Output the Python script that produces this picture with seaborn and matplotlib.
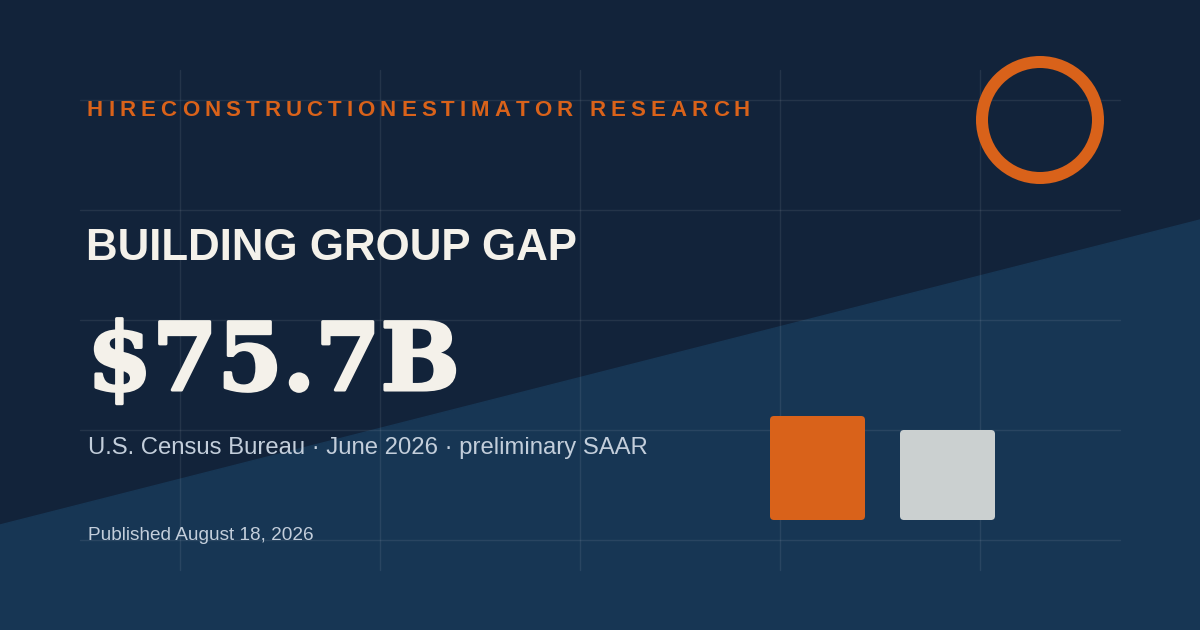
import matplotlib
matplotlib.use("Agg")
import matplotlib.pyplot as plt
import matplotlib.patheffects as pe
import seaborn as sns
import pandas as pd
from matplotlib import font_manager
from matplotlib.ft2font import FT2Font
from matplotlib.patches import Polygon, Circle, FancyBboxPatch

# --- content ---
brand = "HIRECONSTRUCTIONESTIMATOR RESEARCH"
title = "BUILDING GROUP GAP"
headline = "$75.7B"
subtitle = "U.S. Census Bureau \u00b7 June 2026 \u00b7 preliminary SAAR"
published = "Published August 18, 2026"

bar_groups = ["first", "second"]
bar_values = [104, 90]
bar_colors = ["#d9621a", "#cbd0d0"]

# --- colours ---
bg_dark = "#12233a"
bg_light = "#173654"
orange = "#d9621a"
cream = "#f4f1ea"
muted = "#c3cedb"

sns.set_theme(style="white")
plt.rcParams["font.family"] = ["Liberation Sans", "DejaVu Sans"]

W, H, DPI = 1200, 630, 100
fig = plt.figure(figsize=(W / DPI, H / DPI), dpi=DPI)
bg = fig.add_axes([0, 0, 1, 1])
bg.set_xlim(0, W)
bg.set_ylim(H, 0)
bg.axis("off")
bg.add_patch(Polygon([(0, 0), (W, 0), (W, H), (0, H)], closed=True, color=bg_dark, zorder=0))
bg.add_patch(Polygon([(0, 525), (W, 220), (W, H), (0, H)], closed=True, color=bg_light, zorder=1))

# faint grid
for gx in [180, 380, 580, 780, 980]:
    bg.plot([gx, gx], [70, 570], color="white", alpha=0.08, lw=1, zorder=2)
for gy in [100, 210, 320, 430, 540]:
    bg.plot([80, 1120], [gy, gy], color="white", alpha=0.08, lw=1, zorder=2)

# ring
bg.add_patch(Circle((1040, 120), 58, fill=False, ec=orange, lw=12 * 72 / DPI, zorder=3))


# letter-spaced brand line
def advances(text, family, weight, size_pt):
    path = font_manager.findfont(font_manager.FontProperties(family=family, weight=weight))
    ft = FT2Font(path)
    ft.set_size(size_pt, DPI)
    out = []
    for ch in text:
        g = ft.load_char(ord(ch))
        out.append(g.linearHoriAdvance / 65536)
    return out


brand_size = 16
adv = advances(brand, "Liberation Sans", "bold", brand_size)
span = 750 - 87
track = (span - sum(adv)) / (len(brand) - 1)
x = 87
for ch, a in zip(brand, adv):
    bg.text(x, 116, ch, color=orange, fontsize=brand_size, fontweight="bold",
            va="baseline", ha="left", zorder=4)
    x += a + track

bg.text(86, 260, title, color=cream, fontsize=31.6, fontweight="bold",
        va="baseline", ha="left", zorder=4)
bg.text(87, 390, headline, color=cream, fontsize=67.5, fontweight="bold",
        family="DejaVu Serif", va="baseline", ha="left", zorder=4,
        path_effects=[pe.withStroke(linewidth=2.2, foreground=cream)])
bg.text(88, 454, subtitle, color=muted, fontsize=17.2, va="baseline", ha="left", zorder=4)
bg.text(88, 540, published, color=muted, fontsize=13.7, va="baseline", ha="left", zorder=4)

# bars
df = pd.DataFrame({"group": bar_groups, "value": bar_values})
bx0, bx1, by0, hpx = 770, 995, 520, 120
ax = fig.add_axes([bx0 / W, (H - by0) / H, (bx1 - bx0) / W, hpx / H])
ax.patch.set_alpha(0)
bw = 95 / 130
sns.barplot(data=df, x="group", y="value", hue="group", palette=bar_colors,
            width=bw, saturation=1, legend=False, ax=ax)
ax.set_xlim(-bw / 2, 1 + bw / 2)
ax.set_ylim(0, hpx)
ax.axis("off")

# redraw bars with rounded corners in pixel space
for p in list(ax.patches):
    (x0, y0), (x1, y1) = ax.transData.transform([(p.get_x(), p.get_y()),
                                                 (p.get_x() + p.get_width(), p.get_y() + p.get_height())])
    inv = bg.transData.inverted()
    (px0, py0), (px1, py1) = inv.transform([(x0, y0), (x1, y1)])
    left, top = min(px0, px1), min(py0, py1)
    bg.add_patch(FancyBboxPatch((left, top), abs(px1 - px0), abs(py1 - py0),
                                boxstyle="round,pad=0,rounding_size=4",
                                fc=p.get_facecolor(), ec="none", zorder=5))
    p.set_visible(False)

fig.savefig("out.png", dpi=DPI, facecolor=bg_dark)
